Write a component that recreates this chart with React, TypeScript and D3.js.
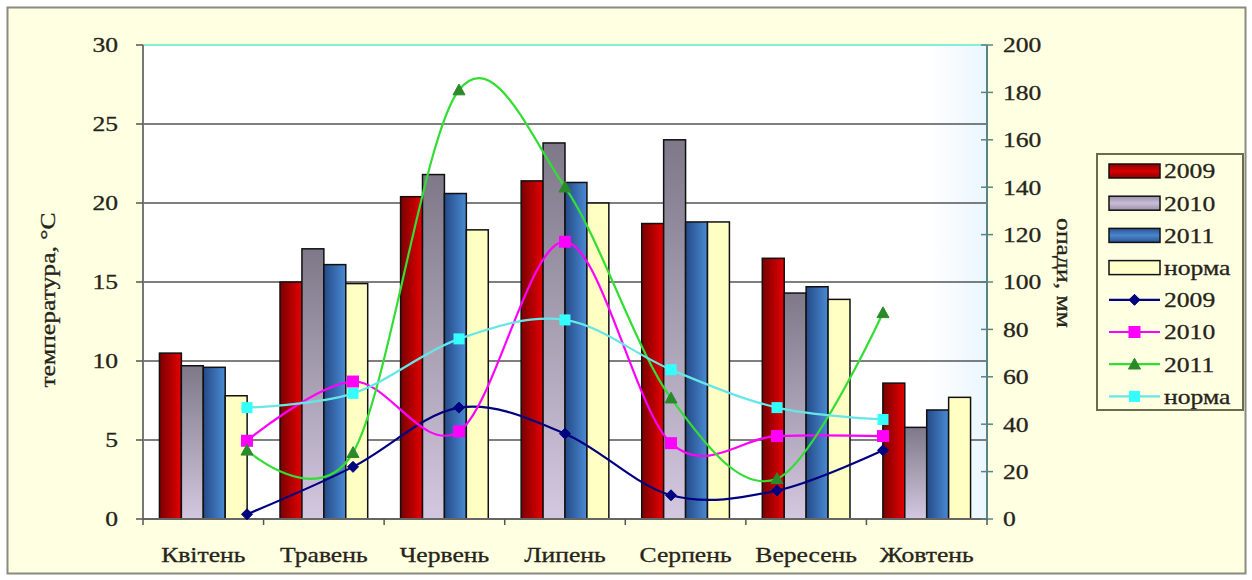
import React from "react";
import * as d3 from "d3";

const months = ["Квітень", "Травень", "Червень", "Липень", "Серпень", "Вересень", "Жовтень"];
const barSeries = ["2009", "2010", "2011", "норма"];
const temp2009 = [10.5, 15.0, 20.4, 21.4, 18.7, 16.5, 8.6];
const temp2010 = [9.7, 17.1, 21.8, 23.8, 24.0, 14.3, 5.8];
const temp2011 = [9.6, 16.1, 20.6, 21.3, 18.8, 14.7, 6.9];
const tempNorm = [7.8, 14.9, 18.3, 20.0, 18.8, 13.9, 7.7];
const rain2009 = [2, 22, 47, 36, 10, 12, 29];
const rain2010 = [33, 58, 37, 117, 32, 35, 35];
const rain2011 = [29, 28, 181, 140, 51, 17, 87];
const rainNorm = [47, 53, 76, 84, 63, 47, 42];
const leftTicks = [0, 5, 10, 15, 20, 25, 30];
const rightTicks = [0, 20, 40, 60, 80, 100, 120, 140, 160, 180, 200];

const FONT = "'Liberation Serif', 'DejaVu Serif', 'Times New Roman', serif";
const SX = 1.22;

function T(props: {
  x: number;
  y: number;
  anchor?: "start" | "middle" | "end";
  size?: number;
  rotate?: number;
  children: React.ReactNode;
}) {
  const { x, y, anchor = "start", size = 21, rotate = 0, children } = props;
  const tr = rotate
    ? `translate(${x},${y}) rotate(${rotate}) scale(${SX},1)`
    : `translate(${x},${y}) scale(${SX},1)`;
  return (
    <text
      transform={tr}
      textAnchor={anchor}
      dy="0.35em"
      style={{ fontFamily: FONT, fontSize: size }}
      fill="#26241a"
      stroke="#26241a"
      strokeWidth={0.3}
    >
      {children}
    </text>
  );
}

export default function App() {
  const W = 1252, H = 580;
  const L = 143, R = 987, TOP = 45, B = 519;
  const x0 = d3.scaleBand<string>().domain(months).range([L, R]).paddingInner(0).paddingOuter(0);
  const bw = x0.bandwidth() / 5.5;
  const x1 = d3.scaleBand<string>().domain(barSeries).range([0.75 * bw, 4.75 * bw]).padding(0);
  const yL = d3.scaleLinear().domain([0, 30]).range([B, TOP]);
  const yR = d3.scaleLinear().domain([0, 200]).range([B, TOP]);
  const xp = d3.scalePoint<string>().domain(months).range([247, 883]);

  const barData = [temp2009, temp2010, temp2011, tempNorm];
  const barFills = ["url(#gRed)", "url(#gGrey)", "url(#gBlue)", "#ffffc4"];
  const legendFills = ["url(#gRedL)", "url(#gGreyL)", "url(#gBlueL)", "#ffffcc"];

  const lineData = [rain2009, rain2010, rain2011, rainNorm];
  const lineColors = ["#000080", "#ff00ff", "#33dd33", "#66e6e6"];
  const markerColors = ["#000080", "#ff00ff", "#2a8a2a", "#33ffff"];
  const line = d3
    .line<number>()
    .x((_, i) => xp(months[i]) as number)
    .y((v) => yR(v))
    .curve(d3.curveCatmullRom.alpha(0));

  const marker = (k: number, cx: number, cy: number, key: string) => {
    const c = markerColors[k];
    if (k === 0) {
      const s = 5.5;
      return <path key={key} d={`M${cx},${cy - s}L${cx + s},${cy}L${cx},${cy + s}L${cx - s},${cy}Z`} fill={c} stroke={c} />;
    }
    if (k === 1) return <rect key={key} x={cx - 6} y={cy - 6} width={12} height={12} fill={c} />;
    if (k === 2) {
      const s = 6;
      return <path key={key} d={`M${cx},${cy - s}L${cx + s},${cy + s * 0.8}L${cx - s},${cy + s * 0.8}Z`} fill={c} stroke={c} />;
    }
    return <rect key={key} x={cx - 5.5} y={cy - 5.5} width={11} height={11} fill={c} />;
  };

  const legendY = (i: number) => 171 + i * 32.2;

  return (
    <svg width={W} height={H} style={{ position: "absolute", left: 0, top: 0 }}>
      <defs>
        <linearGradient id="gRed" x1="0" y1="0" x2="1" y2="0">
          <stop offset="0" stopColor="#7a0000" />
          <stop offset="1" stopColor="#e60000" />
        </linearGradient>
        <linearGradient id="gGrey" x1="0" y1="0" x2="0" y2="1">
          <stop offset="0" stopColor="#7e7888" />
          <stop offset="1" stopColor="#d4c8e0" />
        </linearGradient>
        <linearGradient id="gBlue" x1="0" y1="0" x2="1" y2="0">
          <stop offset="0" stopColor="#244a86" />
          <stop offset="1" stopColor="#4a8ad4" />
        </linearGradient>
        <linearGradient id="gRedL" x1="0" y1="0" x2="0" y2="1">
          <stop offset="0" stopColor="#8a0000" />
          <stop offset="0.5" stopColor="#d80000" />
          <stop offset="1" stopColor="#8a0000" />
        </linearGradient>
        <linearGradient id="gGreyL" x1="0" y1="0" x2="0" y2="1">
          <stop offset="0" stopColor="#9a90a8" />
          <stop offset="0.5" stopColor="#c8bcd6" />
          <stop offset="1" stopColor="#9a90a8" />
        </linearGradient>
        <linearGradient id="gBlueL" x1="0" y1="0" x2="0" y2="1">
          <stop offset="0" stopColor="#2a5494" />
          <stop offset="0.5" stopColor="#4a86cc" />
          <stop offset="1" stopColor="#2a5494" />
        </linearGradient>
        <linearGradient id="gPlot" x1="0" y1="0" x2="1" y2="0">
          <stop offset="0.93" stopColor="#ffffff" />
          <stop offset="1" stopColor="#eaf6ff" />
        </linearGradient>
      </defs>
      <rect x={7.5} y={7.5} width={1238} height={566} fill="#ffffe2" stroke="#8a8a80" strokeWidth={2} />
      <rect x={L} y={TOP} width={R - L} height={B - TOP} fill="url(#gPlot)" />
      {leftTicks.slice(1, -1).map((t) => (
        <line key={"g" + t} x1={L} x2={R} y1={yL(t)} y2={yL(t)} stroke="#555" strokeWidth={1.5} />
      ))}
      <line x1={L} x2={R} y1={TOP} y2={TOP} stroke="#80f0d8" strokeWidth={2} />
      {/* bars */}
      {barData.map((arr, k) =>
        arr.map((v, i) => (
          <rect
            key={`b${k}-${i}`}
            x={(x0(months[i]) as number) + (x1(barSeries[k]) as number)}
            y={yL(v)}
            width={x1.bandwidth()}
            height={B - yL(v)}
            fill={barFills[k]}
            stroke="#111"
            strokeWidth={1.5}
          />
        ))
      )}
      {/* axes */}
      <line x1={L} x2={L} y1={TOP} y2={B} stroke="#777" strokeWidth={2} />
      <line x1={L} x2={R} y1={B} y2={B} stroke="#666" strokeWidth={2} />
      <line x1={R} x2={R} y1={TOP} y2={B} stroke="#5a8484" strokeWidth={2} />
      {leftTicks.map((t) => (
        <g key={"lt" + t}>
          <line x1={L - 7} x2={L} y1={yL(t)} y2={yL(t)} stroke="#555" strokeWidth={1.5} />
          <T x={118} y={yL(t)} anchor="end">
            {t}
          </T>
        </g>
      ))}
      {rightTicks.map((t) => (
        <g key={"rt" + t}>
          <line x1={R - 6} x2={R + 6} y1={yR(t)} y2={yR(t)} stroke="#5a8484" strokeWidth={1.5} />
          <T x={1003} y={yR(t)}>
            {t}
          </T>
        </g>
      ))}
      {months.map((m) => (
        <g key={"m" + m}>
          <line x1={x0(m) as number} x2={x0(m) as number} y1={B} y2={B + 6} stroke="#555" strokeWidth={1.5} />
          <T x={(x0(m) as number) + x0.bandwidth() / 2} y={555} anchor="middle">
            {m}
          </T>
        </g>
      ))}
      <line x1={R} x2={R} y1={B} y2={B + 6} stroke="#555" strokeWidth={1.5} />
      <T x={48} y={300} anchor="middle" rotate={-90}>
        температура, °С
      </T>
      <T x={1064} y={273} anchor="middle" rotate={90}>
        опади, мм
      </T>
      {/* lines */}
      {lineData.map((arr, k) => (
        <path key={"l" + k} d={line(arr) as string} fill="none" stroke={lineColors[k]} strokeWidth={2.2} />
      ))}
      {lineData.map((arr, k) => arr.map((v, i) => marker(k, xp(months[i]) as number, yR(v), `mk${k}-${i}`)))}
      {/* legend */}
      <rect x={1097} y={154} width={146} height={256} fill="#ffffe2" stroke="#6b6b50" strokeWidth={2} />
      {barSeries.map((s, i) => (
        <g key={"lb" + i}>
          <rect x={1109} y={legendY(i) - 7} width={51} height={14} fill={legendFills[i]} stroke="#111" strokeWidth={1.5} />
          <T x={1164} y={legendY(i)}>
            {s}
          </T>
        </g>
      ))}
      {barSeries.map((s, k) => (
        <g key={"ll" + k}>
          <line x1={1109} x2={1160} y1={legendY(k + 4)} y2={legendY(k + 4)} stroke={lineColors[k]} strokeWidth={2.2} />
          {marker(k, 1134.5, legendY(k + 4), "lm" + k)}
          <T x={1164} y={legendY(k + 4)}>
            {s}
          </T>
        </g>
      ))}
    </svg>
  );
}
